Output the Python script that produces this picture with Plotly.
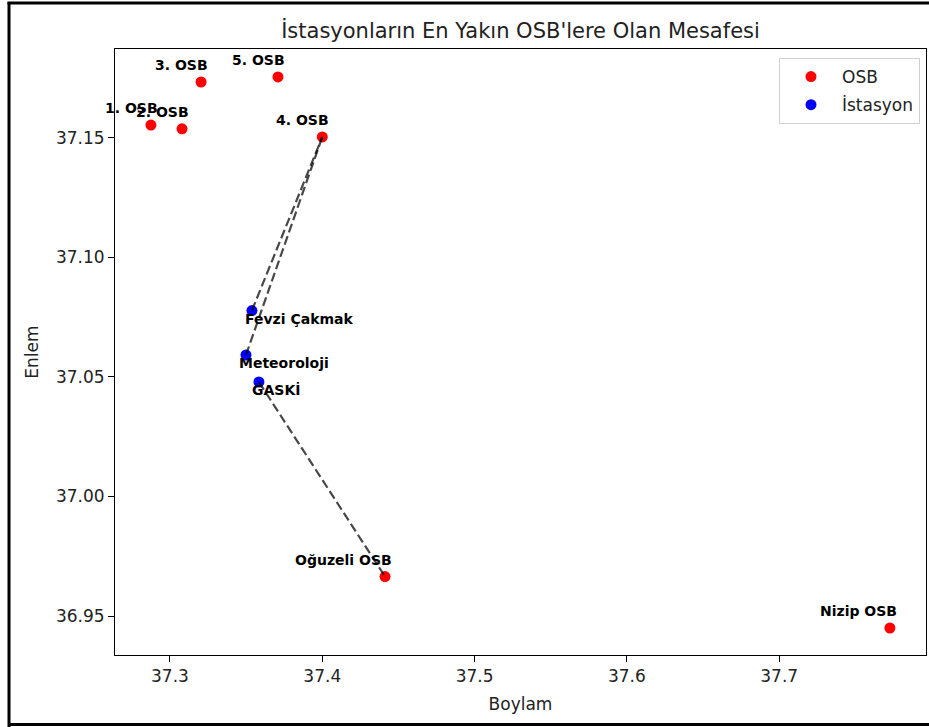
import plotly.graph_objects as go

# Organised industrial zones (OSB)
osb_names = ["1. OSB", "2. OSB", "3. OSB", "4. OSB", "5. OSB", "Oğuzeli OSB", "Nizip OSB"]
osb_lon = [37.2875, 37.3079, 37.3204, 37.4000, 37.3709, 37.4412, 37.7727]
osb_lat = [37.1554, 37.1538, 37.1734, 37.1504, 37.1755, 36.9665, 36.9450]

# Measurement stations
st_names = ["Fevzi Çakmak", "Meteoroloji", "GASKİ"]
st_lon = [37.3538, 37.3499, 37.3584]
st_lat = [37.0778, 37.0592, 37.0479]

# Nearest OSB for each station
nearest_osb = ["4. OSB", "4. OSB", "Oğuzeli OSB"]

FONT = "DejaVu Sans"
W, H = 929, 727
ML, MR, MT, MB = 115, 3, 49, 72
PW, PH = W - ML - MR, H - MT - MB

fig = go.Figure()

fig.add_trace(go.Scatter(
    x=osb_lon, y=osb_lat, mode="markers", name="OSB",
    marker=dict(color="red", size=11, line=dict(width=0)),
    legendgroup="osb",
))
fig.add_trace(go.Scatter(
    x=st_lon, y=st_lat, mode="markers", name="İstasyon",
    marker=dict(color="blue", size=11, line=dict(width=0)),
    legendgroup="st",
))

# Dashed connectors from each station to its nearest OSB
for name, lon, lat, target in zip(st_names, st_lon, st_lat, nearest_osb):
    k = osb_names.index(target)
    fig.add_trace(go.Scatter(
        x=[lon, osb_lon[k]], y=[lat, osb_lat[k]], mode="lines",
        line=dict(color="rgba(0,0,0,0.72)", width=2.2, dash="9px,4px"),
        showlegend=False, hoverinfo="skip",
    ))

annotations = []
for name, lon, lat in zip(osb_names, osb_lon, osb_lat):
    annotations.append(dict(
        x=lon, y=lat, xref="x", yref="y", text=f"<b>{name}</b>", showarrow=False,
        xanchor="right", yanchor="middle", xshift=7, yshift=17,
        borderpad=0, borderwidth=0,
        font=dict(family=FONT, size=14, color="black"),
    ))
for name, lon, lat in zip(st_names, st_lon, st_lat):
    annotations.append(dict(
        x=lon, y=lat, xref="x", yref="y", text=f"<b>{name}</b>", showarrow=False,
        xanchor="left", yanchor="middle", xshift=-7, yshift=-8,
        borderpad=0, borderwidth=0,
        font=dict(family=FONT, size=14, color="black"),
    ))

# Frame around the whole figure
def px_x(p):
    return (p - ML) / PW

def px_y(p):
    return 1 - (p - MT) / PH

shapes = [
    dict(type="line", xref="paper", yref="paper",
         x0=px_x(9), x1=px_x(9), y0=px_y(2), y1=px_y(H), line=dict(color="black", width=3)),
    dict(type="line", xref="paper", yref="paper",
         x0=px_x(7.5), x1=px_x(W + 5), y0=px_y(3), y1=px_y(3), line=dict(color="black", width=3)),
    dict(type="line", xref="paper", yref="paper",
         x0=px_x(9), x1=px_x(W + 5), y0=px_y(724.5), y1=px_y(724.5), line=dict(color="black", width=3)),
]

axis_common = dict(
    showline=True, linecolor="black", linewidth=1, mirror=True,
    ticks="outside", ticklen=6, tickwidth=1, tickcolor="black",
    showgrid=False, zeroline=False,
    tickfont=dict(family=FONT, size=17, color="#222"),
)

fig.update_layout(
    width=W, height=H,
    margin=dict(l=ML, r=MR, t=MT, b=MB),
    paper_bgcolor="white", plot_bgcolor="white",
    title=dict(text="İstasyonların En Yakın OSB'lere Olan Mesafesi",
               x=(ML + PW / 2) / W, xanchor="center", y=1 - 31 / H, yanchor="middle",
               font=dict(family=FONT, size=21, color="#222")),
    xaxis=dict(range=[37.2639, 37.7964], tickvals=[37.3, 37.4, 37.5, 37.6, 37.7],
               ticktext=["37.3", "37.4", "37.5", "37.6", "37.7"],
               title=dict(text="Boylam", font=dict(family=FONT, size=17, color="#222"), standoff=12),
               **axis_common),
    yaxis=dict(range=[36.9337, 37.1872], tickvals=[36.95, 37.00, 37.05, 37.10, 37.15],
               ticktext=["36.95", "37.00", "37.05", "37.10", "37.15"],
               title=dict(text="Enlem", font=dict(family=FONT, size=17, color="#222"), standoff=12),
               **axis_common),
    legend=dict(x=px_x(920), y=px_y(58), xanchor="right", yanchor="top",
                bgcolor="white", bordercolor="#d0d0d0", borderwidth=1,
                font=dict(family=FONT, size=17, color="#222"), tracegroupgap=3,
                itemwidth=52),
    annotations=annotations,
    shapes=shapes,
    showlegend=True,
)

fig.write_html("out.html")
